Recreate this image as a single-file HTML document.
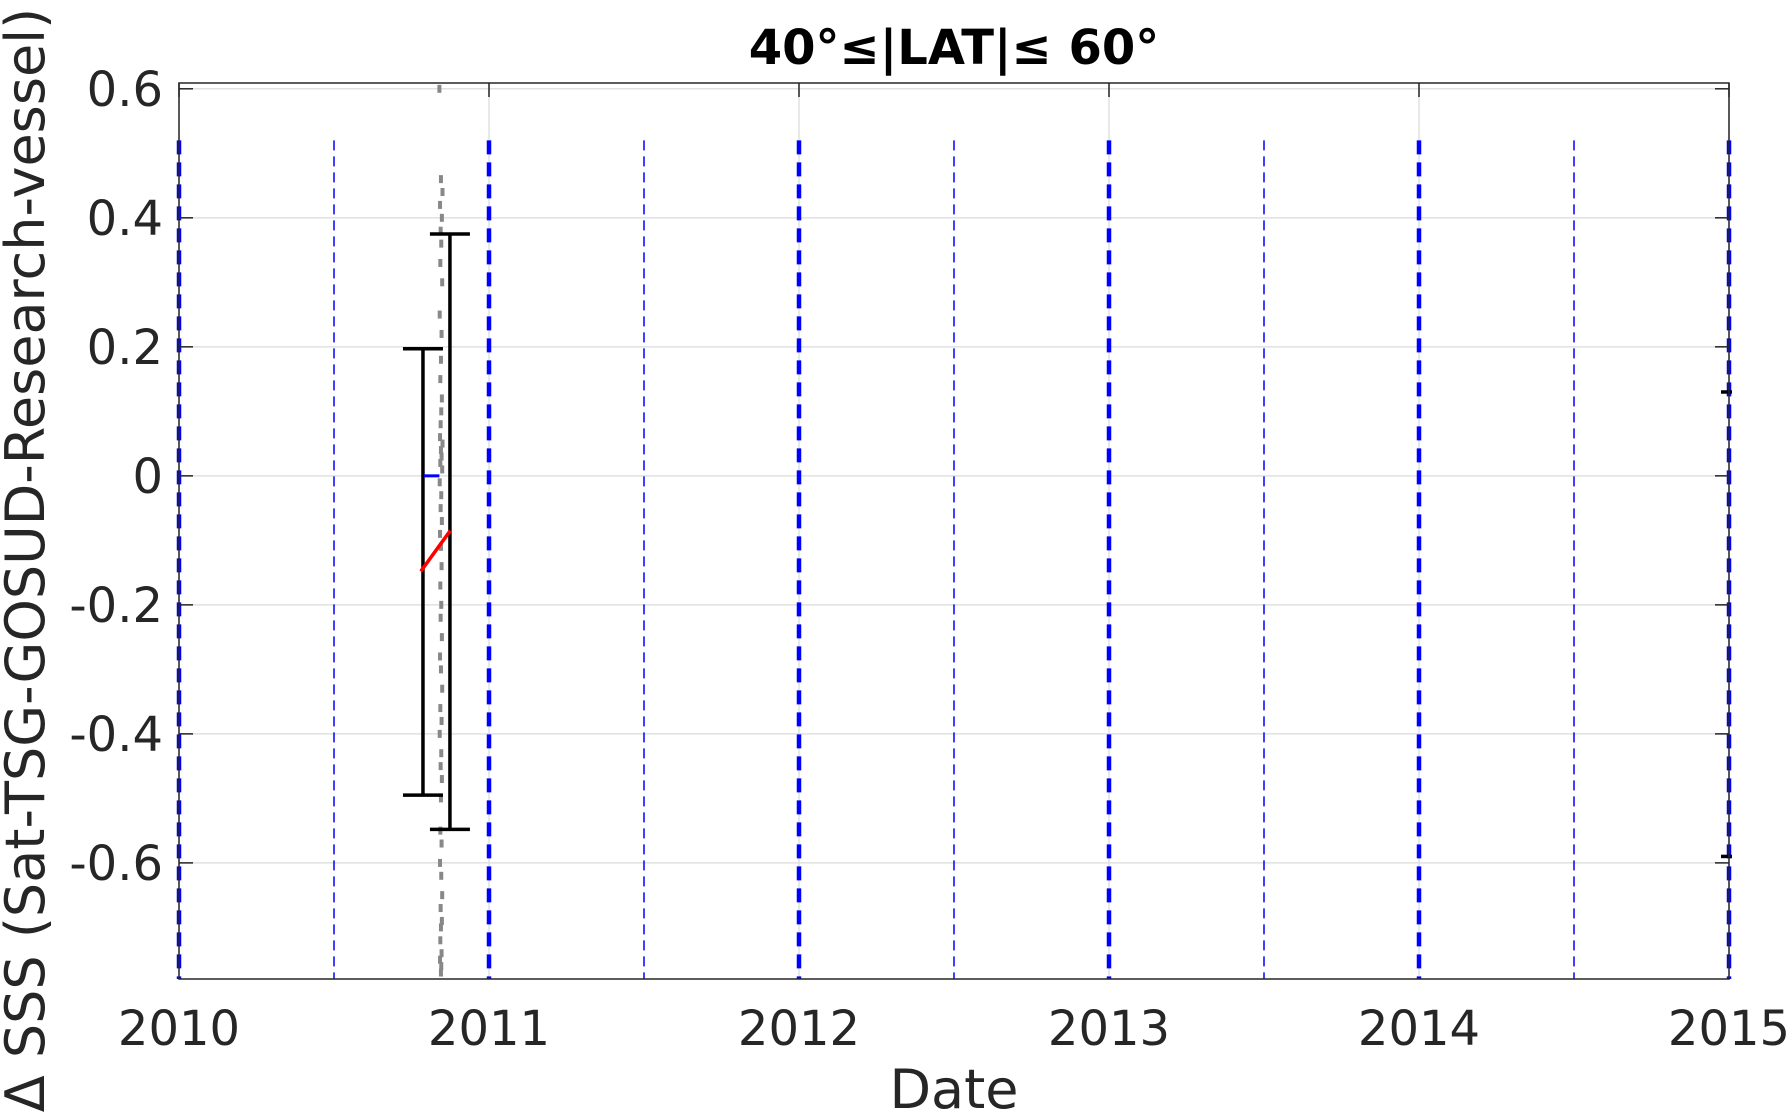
<!DOCTYPE html>
<html><head><meta charset="utf-8"><style>
html,body{margin:0;padding:0;background:#fff;}
svg{display:block;font-family:"DejaVu Sans","Liberation Sans",sans-serif;}
</style></head><body>
<svg id="chart" width="1792" height="1112" viewBox="0 0 1792 1112" xmlns="http://www.w3.org/2000/svg">
<g id="grid"></g>
<g id="vlines"></g>
<g id="marks"></g>
<g id="axes"></g>
<text x="954" y="64" font-size="48" font-weight="bold" text-anchor="middle" fill="#000">40°≤|LAT|≤ 60°</text>
<text x="954" y="1108" font-size="54" text-anchor="middle" fill="#262626">Date</text>
<text transform="translate(44,560) rotate(-90)" font-size="54" text-anchor="middle" fill="#262626">Δ SSS (Sat-TSG-GOSUD-Research-vessel)</text>
</svg>
<script>
const xTicks = [2010, 2011, 2012, 2013, 2014, 2015];
const halfYears = [2010.5, 2011.5, 2012.5, 2013.5, 2014.5];
const yTicks = [0.6, 0.4, 0.2, 0, -0.2, -0.4, -0.6];
const yTickLabels = ["0.6", "0.4", "0.2", "0", "-0.2", "-0.4", "-0.6"];
const errDates = [2010.787, 2010.874];
const errLow = [-0.495, -0.548];
const errHigh = [0.197, 0.375];
const meanDate = [2010.79, 2010.84];
const meanVal = [0, 0];
const trendDates = [2010.78, 2010.875];
const trendVals = [-0.148, -0.085];
const edgeDates = [2015, 2015];
const edgeVals = [0.13, -0.59];
const scatterDates = [2010.84,2010.845,2010.85,2010.842,2010.848,2010.844,2010.846,2010.843,2010.849,2010.841,2010.847,2010.845,2010.843,2010.848,2010.846,2010.844,2010.842,2010.85,2010.845,2010.847,2010.843,2010.849,2010.841,2010.846,2010.844,2010.848,2010.842,2010.845,2010.847,2010.843,2010.846,2010.844,2010.848,2010.842,2010.845,2010.849,2010.843,2010.847,2010.841,2010.846,2010.844,2010.848,2010.845,2010.843,2010.847,2010.842,2010.846,2010.849,2010.844,2010.845,2010.843,2010.847,2010.842,2010.846,2010.845,2010.848];
const scatterVals = [0.6,0.46,0.44,0.42,0.40,0.38,0.36,0.33,0.30,0.25,0.22,0.18,0.15,0.12,0.10,0.08,0.06,0.05,0.04,0.03,0.02,0.01,-0.01,-0.03,-0.05,-0.07,-0.09,-0.11,-0.14,-0.17,-0.2,-0.22,-0.25,-0.28,-0.3,-0.33,-0.36,-0.38,-0.4,-0.43,-0.45,-0.47,-0.5,-0.55,-0.57,-0.6,-0.62,-0.65,-0.67,-0.7,-0.72,-0.74,-0.75,-0.76,-0.77,-0.69];
const L=179,R=1729,T=83,B=979,X0=2010,X1=2015,Y0=-0.78,Y1=0.609;
function xs(v){return L+(v-X0)/(X1-X0)*(R-L);}
function ys(v){return B-(v-Y0)/(Y1-Y0)*(B-T);}
const NS="http://www.w3.org/2000/svg";
function mk(parent,tag,attrs){const e=document.createElementNS(NS,tag);for(const k in attrs)e.setAttribute(k,attrs[k]);parent.appendChild(e);return e;}
const grid=document.getElementById('grid'),vl=document.getElementById('vlines'),mg=document.getElementById('marks'),ax=document.getElementById('axes');
yTicks.forEach((v,i)=>{const l=mk(grid,'line',{x1:L,x2:R,y1:ys(v),y2:ys(v),stroke:'#e0e0e0','stroke-width':1.5});


const t=mk(ax,'text',{x:L-16,y:ys(v)+17,'font-size':48,'text-anchor':'end',fill:'#262626'});t.textContent=yTickLabels[i];


mk(ax,'line',{x1:L,x2:L+14,y1:ys(v),y2:ys(v),stroke:'#262626','stroke-width':1.5});
mk(ax,'line',{x1:R,x2:R-14,y1:ys(v),y2:ys(v),stroke:'#262626','stroke-width':1.5});});
xTicks.forEach(v=>{const l=mk(grid,'line',{x1:xs(v),x2:xs(v),y1:T,y2:B,stroke:'#e0e0e0','stroke-width':1.5});


const t=mk(ax,'text',{x:xs(v),y:B+66,'font-size':48,'text-anchor':'middle',fill:'#262626'});t.textContent=String(v);


mk(ax,'line',{x1:xs(v),x2:xs(v),y1:T,y2:T+14,stroke:'#262626','stroke-width':1.5});
const d=mk(vl,'line',{x1:xs(v),x2:xs(v),y1:ys(0.52),y2:B,stroke:'#0000ff','stroke-width':4.5,'stroke-dasharray':'14 8'});

});
halfYears.forEach(v=>{const d=mk(vl,'line',{x1:xs(v),x2:xs(v),y1:ys(0.52),y2:B,stroke:'#0000ff','stroke-width':1.5,'stroke-dasharray':'10 6'});

});
scatterDates.forEach((d,i)=>{const c=mk(mg,'rect',{x:xs(d)-2,y:ys(scatterVals[i])-4,width:4,height:8,fill:'#888'});

});
errDates.forEach((d,i)=>{const g=mk(mg,'g',{stroke:'#000','stroke-width':3.5});


mk(g,'line',{x1:xs(d),x2:xs(d),y1:ys(errHigh[i]),y2:ys(errLow[i])});
mk(g,'line',{x1:xs(d)-20,x2:xs(d)+20,y1:ys(errHigh[i]),y2:ys(errHigh[i])});
mk(g,'line',{x1:xs(d)-20,x2:xs(d)+20,y1:ys(errLow[i]),y2:ys(errLow[i])});});
const m=mk(mg,'line',{x1:xs(meanDate[0]),x2:xs(meanDate[1]),y1:ys(meanVal[0]),y2:ys(meanVal[1]),stroke:'#0000ff','stroke-width':3});


const tr=mk(mg,'line',{x1:xs(trendDates[0]),x2:xs(trendDates[1]),y1:ys(trendVals[0]),y2:ys(trendVals[1]),stroke:'#ff0000','stroke-width':3.5});


edgeDates.forEach((d,i)=>{const e=mk(mg,'line',{x1:xs(d)-8,x2:xs(d)+3,y1:ys(edgeVals[i]),y2:ys(edgeVals[i]),stroke:'#000','stroke-width':3.5});

});
const box=mk(ax,'rect',{x:L,y:T,width:R-L,height:B-T,fill:'none',stroke:'#262626','stroke-width':1.5});


</script>
</body></html>
